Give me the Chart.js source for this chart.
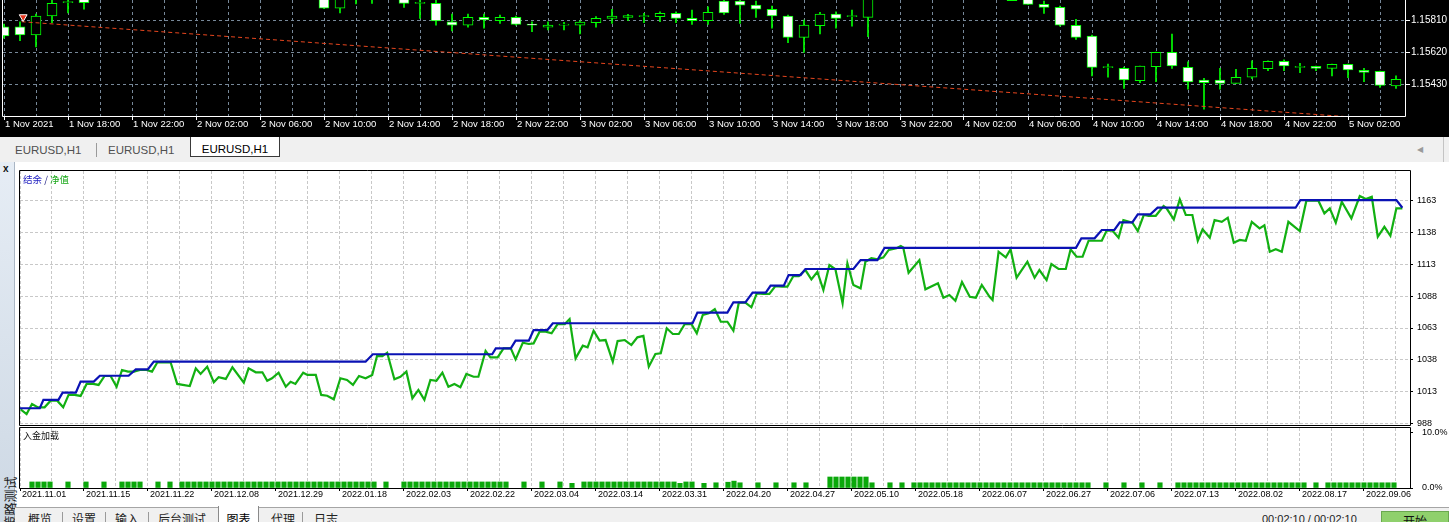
<!DOCTYPE html>
<html>
<head>
<meta charset="utf-8">
<title>EURUSD,H1 - 策略测试</title>
<script src="https://cdn.jsdelivr.net/npm/chart.js@4.4.1/dist/chart.umd.min.js"></script>
<style>
  html, body { margin: 0; padding: 0; }
  body { width: 1449px; height: 522px; overflow: hidden; position: relative; background: #fff;
         font-family: "Liberation Sans", Arial, sans-serif; }
  .abs { position: absolute; }
  canvas { display: block; }
  #pricePane { left: 0; top: 0; width: 1449px; height: 137px; background: #000; }
  #chartTabs { left: 0; top: 137px; width: 1449px; height: 25px; background: #f0f0f0; }
  .ctab { position: absolute; top: 6px; font-size: 11.5px; line-height: 14px; color: #505050; }
  .ctab.active { top: 0; width: 90px; height: 20px; padding-top: 5px; text-align: center; color: #000;
                 background: #fff; border: 1px solid #3a3a3a; border-top: none; box-sizing: border-box; }
  .vsep { position: absolute; width: 1px; background: #9a9a9a; }
  #sideBar { left: 0; top: 162px; width: 14px; height: 360px; border-right: 1px solid #aab6c4;
             background: linear-gradient(#e6edf5, #cdd8e4); }
  #sideTitle { left: -24px; top: 495px; width: 62px; height: 15px; line-height: 15px; text-align: center;
               transform: rotate(-90deg); font: 13px "Noto Sans CJK SC", sans-serif; color: #1e1e1e; white-space: nowrap; }
  .cjk { font-family: "Noto Sans CJK SC", sans-serif; }
  #testerTabs { left: 15px; top: 507px; width: 1434px; height: 15px; background: #f0f0f0; border-top: 1px solid #a5a5a5; }
  .ttab { position: absolute; top: 3px; font: 12px "Noto Sans CJK SC", sans-serif; line-height: 16px; color: #222; }
  .ttab.active { top: -2px; width: 41px; height: 20px; padding-top: 5px; text-align: center; box-sizing: border-box;
                 background: #fff; border: 1px solid #8a8a8a; border-top: none; color: #000; }
</style>
</head>
<body>

<div id="pricePane" class="abs">
  <canvas id="priceChart" width="1449" height="137"></canvas>
</div>

<div id="chartTabs" class="abs">
  <div class="ctab" style="left:15px">EURUSD,H1</div>
  <div class="vsep" style="left:96px;top:6px;height:14px"></div>
  <div class="ctab" style="left:108px">EURUSD,H1</div>
  <div class="ctab active" style="left:190px">EURUSD,H1</div>
  <div class="ctab" style="left:1417px;top:6px;font-size:8px;color:#9a9a9a">&#9664;</div>
  <div class="vsep" style="left:1443px;top:0;height:25px;background:#c4c4c4"></div>
</div>

<div id="sideBar" class="abs"></div>
<div class="abs" style="left:3px;top:163px;font:bold 10px 'Liberation Sans';color:#111">x</div>
<div id="sideTitle" class="abs">策略测试</div>

<canvas id="equityChart" class="abs" style="left:0;top:163px" width="1449" height="263"></canvas>
<canvas id="loadChart" class="abs" style="left:0;top:426px" width="1449" height="80"></canvas>

<div class="abs cjk" style="left:23px;top:174px;font-size:9.5px;line-height:10px;white-space:nowrap">
  <span style="color:#1c1cc0">结余</span><span style="color:#1c1c80"> / </span><span style="color:#18a818">净值</span>
</div>
<div class="abs cjk" style="left:23px;top:431px;font-size:9px;line-height:10px;color:#111">入金加载</div>

<div id="testerTabs" class="abs">
  <div class="ttab" style="left:13px">概览</div>
  <div class="vsep" style="left:47px;top:4px;height:11px"></div>
  <div class="ttab" style="left:57px">设置</div>
  <div class="vsep" style="left:90px;top:4px;height:11px"></div>
  <div class="ttab" style="left:100px">输入</div>
  <div class="vsep" style="left:133px;top:4px;height:11px"></div>
  <div class="ttab" style="left:143px">后台测试</div>
  <div class="ttab active" style="left:203px">图表</div>
  <div class="ttab" style="left:256px">代理</div>
  <div class="vsep" style="left:287px;top:4px;height:11px"></div>
  <div class="ttab" style="left:299px">日志</div>
  <div class="abs" style="left:1247px;top:5px;font-size:11px;color:#222;white-space:nowrap">00:02:10 / 00:02:10</div>
  <div class="abs cjk" style="left:1366px;top:3px;width:68px;height:16px;background:#8fd06c;border:1px solid #6aa84f;
       box-sizing:border-box;font-size:12px;line-height:18px;text-align:center;color:#111">开始</div>
</div>

<script>
// ---- Price chart (EURUSD H1, candle index 0 = 1 Nov 14:00) ----
// null = bar sits completely above the visible price range
const candleOpen = [
  1.15770, 1.15770, 1.15721, 1.15834, 1.15913, 1.15947, null, null, null, null,
  null, null, null, null, null, null, null, null, null, null,
  1.15958, 1.15880, 1.15960, 1.15960, null, 1.15950, 1.15909, 1.15909, 1.15800, 1.15780,
  1.15826, 1.15806, 1.15826, 1.15786, 1.15767, 1.15779, 1.15779, 1.15794, 1.15820, 1.15826,
  1.15830, 1.15830, 1.15850, 1.15820, 1.15806, 1.15923, 1.15923, 1.15899, 1.15874, 1.15834,
  1.15707, 1.15776, 1.15846, 1.15830, 1.15826, null, null, null, null, null,
  null, null, null, 1.15970, 1.15950, 1.15903, 1.15885, 1.15779, 1.15715, 1.15527,
  1.15523, 1.15450, 1.15533, 1.15618, 1.15529, 1.15454, 1.15454, 1.15434, 1.15470, 1.15521,
  1.15565, 1.15529, 1.15535, 1.15523, 1.15547, 1.15511, 1.15505, 1.15418
];
const candleHigh = [
  1.15786, 1.15800, 1.15846, 1.15947, 1.15941, 1.15958, null, null, null, null,
  null, null, null, null, null, null, null, null, null, null,
  1.15976, 1.15976, 1.15990, 1.15985, null, 1.15970, 1.15941, 1.15929, 1.15846, 1.15846,
  1.15846, 1.15840, 1.15834, 1.15800, 1.15800, 1.15796, 1.15806, 1.15830, 1.15874, 1.15844,
  1.15850, 1.15859, 1.15859, 1.15869, 1.15889, 1.15935, 1.15935, 1.15923, 1.15893, 1.15840,
  1.15810, 1.15856, 1.15859, 1.15869, 1.15990, null, null, null, null, null,
  null, null, null, 1.15985, 1.15965, 1.15923, 1.15893, 1.15814, 1.15721, 1.15549,
  1.15531, 1.15537, 1.15620, 1.15727, 1.15562, 1.15464, 1.15523, 1.15517, 1.15567, 1.15567,
  1.15573, 1.15553, 1.15537, 1.15549, 1.15549, 1.15523, 1.15507, 1.15478
];
const candleLow = [
  1.15703, 1.15687, 1.15651, 1.15794, 1.15853, 1.15875, null, null, null, null,
  null, null, null, null, null, null, null, null, null, null,
  1.15878, 1.15853, 1.15905, 1.15909, null, 1.15885, 1.15820, 1.15780, 1.15746, 1.15767,
  1.15761, 1.15790, 1.15780, 1.15741, 1.15751, 1.15751, 1.15727, 1.15767, 1.15790, 1.15806,
  1.15794, 1.15800, 1.15794, 1.15784, 1.15784, 1.15844, 1.15790, 1.15826, 1.15761, 1.15675,
  1.15618, 1.15727, 1.15761, 1.15774, 1.15711, null, null, null, null, null,
  null, null, null, 1.15925, 1.15903, 1.15850, 1.15774, 1.15695, 1.15478, 1.15470,
  1.15404, 1.15438, 1.15444, 1.15523, 1.15399, 1.15280, 1.15399, 1.15434, 1.15461, 1.15509,
  1.15509, 1.15497, 1.15509, 1.15478, 1.15467, 1.15444, 1.15410, 1.15404
];
const candleClose = [
  1.15715, 1.15721, 1.15834, 1.15909, 1.15919, 1.15913, null, null, null, null,
  null, null, null, null, null, null, null, null, null, null,
  1.15880, 1.15958, 1.15975, 1.15950, null, 1.15909, 1.15909, 1.15804, 1.15780, 1.15826,
  1.15810, 1.15826, 1.15784, 1.15779, 1.15780, 1.15786, 1.15798, 1.15820, 1.15834, 1.15836,
  1.15830, 1.15850, 1.15820, 1.15806, 1.15856, 1.15853, 1.15899, 1.15874, 1.15834, 1.15707,
  1.15780, 1.15846, 1.15820, 1.15830, 1.15976, null, null, null, null, null,
  null, null, null, 1.15925, 1.15903, 1.15885, 1.15779, 1.15707, 1.15529, 1.15527,
  1.15454, 1.15537, 1.15618, 1.15537, 1.15442, 1.15438, 1.15434, 1.15470, 1.15523, 1.15565,
  1.15537, 1.15529, 1.15523, 1.15547, 1.15513, 1.15499, 1.15422, 1.15458
];
const timeLabels = [
  "1 Nov 2021", "1 Nov 18:00", "1 Nov 22:00", "2 Nov 02:00", "2 Nov 06:00", "2 Nov 10:00",
  "2 Nov 14:00", "2 Nov 18:00", "2 Nov 22:00", "3 Nov 02:00", "3 Nov 06:00", "3 Nov 10:00",
  "3 Nov 14:00", "3 Nov 18:00", "3 Nov 22:00", "4 Nov 02:00", "4 Nov 06:00", "4 Nov 10:00",
  "4 Nov 14:00", "4 Nov 18:00", "4 Nov 22:00", "5 Nov 02:00"
];
const priceTicks = [1.15430, 1.15620, 1.15810];
// dashed order line and the sell arrow
const trendBar = [1.1, 87.6];
const trendPrice = [1.15800, 1.15211];
const sellBar = [1.2];
const sellPrice = [1.15828];

// ---- Tester graph (x = trade number) ----
const equityTrade = [
  0.1, 1.1, 2.0, 3.0, 4.1, 5.1, 6.2, 7.2, 8.1, 9.1,
  10.1, 11.1, 12.2, 13.1, 14.1, 15.1, 16.1, 17.0, 18.0, 19.0,
  20.0, 21.1, 22.0, 22.9, 25.1, 26.2, 28.3, 29.3, 30.1, 31.2,
  32.3, 33.1, 34.3, 35.4, 37.3, 38.1, 39.3, 40.4, 41.2, 42.0,
  43.1, 44.3, 45.1, 45.9, 47.2, 47.9, 49.3, 50.2, 51.2, 52.3,
  53.4, 54.5, 55.5, 56.5, 57.6, 58.7, 59.5, 60.4, 61.2, 62.4,
  63.4, 64.4, 65.4, 66.4, 67.4, 68.4, 69.4, 70.4, 71.4, 72.4,
  73.4, 74.4, 75.6, 76.4, 77.6, 78.4, 79.6, 80.6, 81.8, 82.6,
  83.8, 84.8, 85.6, 86.6, 87.6, 88.6, 89.6, 90.8, 91.6, 92.6,
  93.8, 94.6, 95.6, 96.6, 97.6, 98.8, 99.6, 100.8, 101.9, 102.9,
  103.9, 104.8, 105.9, 106.8, 107.8, 108.8, 109.8, 110.8, 111.9, 112.8,
  113.8, 114.8, 115.8, 116.8, 117.9, 118.9, 119.8, 120.9, 121.9, 122.8,
  123.9, 124.9, 125.9, 127.0, 127.9, 128.9, 129.8, 130.9, 131.9, 132.9,
  133.9, 134.9, 135.9, 137.1, 137.9, 138.9, 140.1, 140.9, 141.9, 142.9,
  143.9, 144.8, 146.1, 146.8, 147.2, 148.1, 149.9, 150.9, 153.0, 153.9,
  154.9, 155.9, 157.0, 158.3, 159.3, 160.3, 161.6, 162.1, 163.1, 164.3,
  165.1, 166.1, 167.9, 169.1, 169.9, 171.1, 171.9, 173.1, 174.3, 175.1,
  176.1, 177.1, 178.1, 180.3, 181.1, 182.1, 183.1, 183.9, 185.4, 186.3,
  187.3, 188.1, 189.3, 190.6, 191.1, 192.3, 193.3, 194.3, 195.4, 196.3,
  197.1, 198.3, 199.1, 200.3, 201.3, 202.3, 203.3, 204.3, 205.3, 206.6,
  207.4, 208.3, 209.3, 210.3, 211.4, 213.3, 214.4, 216.4, 217.4, 218.3,
  219.3, 220.3, 221.9, 223.3, 224.3, 225.3, 226.3, 227.4, 228.4, 229.4,
  230.4
];
const equityValue = [
  999.5, 995.8, 1003.6, 1001.0, 1001.0, 1006.2, 1006.2, 1001.0, 1010.7, 1010.7,
  1009.9, 1019.3, 1019.3, 1018.5, 1025.5, 1025.5, 1017.1, 1030.2, 1028.9, 1028.9,
  1030.2, 1030.2, 1028.9, 1036.2, 1036.2, 1019.3, 1017.7, 1031.5, 1027.1, 1032.8,
  1020.6, 1024.5, 1023.2, 1032.3, 1020.3, 1031.5, 1028.4, 1028.4, 1021.8, 1023.7,
  1028.1, 1017.1, 1021.0, 1019.3, 1028.1, 1026.3, 1026.3, 1010.7, 1010.1, 1007.3,
  1023.7, 1022.4, 1018.5, 1025.5, 1023.7, 1026.3, 1041.1, 1041.1, 1043.7, 1022.9,
  1024.9, 1028.9, 1008.1, 1014.6, 1006.8, 1022.4, 1021.8, 1028.1, 1017.1, 1019.3,
  1016.7, 1027.1, 1024.9, 1024.9, 1045.0, 1040.1, 1040.1, 1047.1, 1047.1, 1038.5,
  1051.5, 1050.5, 1051.0, 1060.1, 1060.1, 1058.9, 1066.1, 1066.1, 1070.0, 1039.3,
  1049.2, 1047.9, 1060.9, 1053.1, 1053.6, 1036.7, 1052.8, 1053.6, 1049.7, 1055.7,
  1056.8, 1032.8, 1042.7, 1043.2, 1062.8, 1058.3, 1058.3, 1066.1, 1066.1, 1058.9,
  1073.2, 1074.5, 1077.8, 1067.9, 1067.9, 1060.9, 1082.8, 1082.8, 1079.2, 1090.1,
  1089.6, 1089.6, 1095.8, 1095.3, 1095.3, 1103.6, 1103.6, 1108.3, 1101.0, 1107.0,
  1092.7, 1112.2, 1108.9, 1082.3, 1113.5, 1096.6, 1094.0, 1114.8, 1117.5, 1116.7,
  1118.2, 1124.0, 1125.3, 1127.1, 1126.0, 1106.2, 1116.1, 1093.2, 1097.9, 1086.7,
  1088.8, 1084.3, 1098.9, 1087.4, 1086.7, 1096.6, 1087.4, 1084.9, 1122.6, 1118.2,
  1124.5, 1102.3, 1114.8, 1102.3, 1108.3, 1100.5, 1113.0, 1109.1, 1109.1, 1124.5,
  1118.7, 1118.7, 1131.2, 1131.2, 1139.0, 1139.0, 1133.5, 1147.4, 1145.3, 1138.8,
  1151.3, 1150.7, 1150.7, 1158.3, 1156.5, 1147.9, 1163.5, 1151.3, 1151.3, 1131.2,
  1140.1, 1133.5, 1147.4, 1146.0, 1149.2, 1129.6, 1131.8, 1131.2, 1146.0, 1140.9,
  1143.2, 1122.6, 1124.5, 1122.6, 1146.0, 1138.8, 1162.5, 1162.5, 1152.6, 1156.5,
  1145.3, 1161.7, 1148.7, 1166.1, 1163.8, 1165.6, 1134.3, 1142.1, 1135.1, 1156.5,
  1156.5
];
const balanceTrade = [
  0.0, 3.3, 3.9, 6.4, 7.1, 9.3, 10.1, 12.3, 13.3, 18.1,
  19.3, 21.3, 22.3, 57.6, 58.8, 78.7, 79.3, 81.8, 82.6, 84.8,
  85.6, 87.9, 88.8, 112.1, 112.9, 117.9, 118.9, 120.9, 122.1, 124.3,
  125.1, 127.3, 128.1, 130.1, 130.9, 138.9, 140.1, 142.9, 144.1, 176.0,
  176.9, 179.1, 180.3, 182.4, 183.3, 185.4, 186.3, 188.4, 189.6, 212.6,
  213.4, 229.4, 230.4
];
const balanceValue = [
  1000.3, 1000.3, 1006.8, 1006.8, 1012.5, 1012.5, 1021.1, 1021.1, 1025.7, 1025.7,
  1030.7, 1030.7, 1036.7, 1036.7, 1042.5, 1042.5, 1047.1, 1047.1, 1053.1, 1053.1,
  1061.4, 1061.4, 1066.7, 1066.7, 1075.0, 1075.0, 1083.1, 1083.1, 1090.6, 1090.6,
  1096.1, 1096.1, 1104.4, 1104.4, 1109.1, 1109.1, 1116.1, 1116.1, 1125.7, 1125.7,
  1133.1, 1133.1, 1139.6, 1139.6, 1145.6, 1145.6, 1151.8, 1151.8, 1157.0, 1157.0,
  1163.0, 1163.0, 1157.0
];
const equityTicks = [988, 1013, 1038, 1063, 1088, 1113, 1138, 1163];

// deposit load (%) per trade
const loadTrade = [
  2, 3, 4, 5, 8, 11, 14, 17, 18, 19, 20, 23, 25,
  27, 28, 29, 30, 31, 32, 33, 34, 35, 36, 37, 38, 39, 40, 41, 42, 43,
  44, 45, 46, 47, 48, 49, 50, 51, 52, 53, 54, 55, 56, 57, 58, 59,
  61, 64, 65, 66, 67, 68, 69, 70, 71, 72, 73, 74, 75, 76, 77, 78, 79, 80, 81,
  84, 87, 90, 92,
  94, 95, 96, 97, 98, 99, 100, 101, 102, 103, 104, 105, 106, 107, 108, 109,
  110, 111, 112, 114, 116, 118, 119, 120,
  123, 126, 129, 131,
  135, 136, 137, 138, 139, 140, 141, 142, 145, 147,
  149, 150, 151, 152, 153, 154, 155, 156, 157, 158, 159, 160, 161, 162, 163,
  164, 165, 166, 167, 168, 169, 170, 171, 172, 173, 174, 175, 176, 177, 178,
  181, 184, 187, 190,
  193, 194, 195, 196, 197, 198, 199, 200, 201, 202, 203,
  204, 205, 206, 207, 208, 209, 210, 211, 212, 213, 214,
  216, 218, 219, 220, 221, 222, 223, 224, 225, 226, 227, 228, 229
];
const loadValue = [
  1.1, 1.1, 1.1, 1.1, 1.1, 1.1, 1.1, 1.1, 1.1, 1.1, 1.1, 1.1, 1.1,
  1.1, 1.1, 1.1, 1.1, 1.1, 1.1, 1.1, 1.1, 1.1, 1.1, 1.1, 1.1, 1.1, 1.1, 1.1, 1.1, 1.1,
  1.1, 1.1, 1.1, 1.1, 1.1, 1.1, 1.1, 1.1, 1.1, 1.1, 1.1, 1.1, 1.1, 1.1, 1.1, 1.1,
  1.1, 1.1, 1.1, 1.1, 1.1, 1.1, 1.1, 1.1, 1.1, 1.1, 1.1, 1.1, 1.1, 1.1, 1.1, 1.1, 1.1, 1.1, 1.1,
  1.1, 1.1, 1.1, 0.85,
  1.1, 1.1, 1.1, 1.1, 1.1, 1.1, 1.1, 1.1, 1.1, 1.1, 1.1, 1.1, 1.1, 1.1, 1.1, 1.1,
  0.85, 1.1, 1.1, 0.85, 0.95, 1.05, 1.25, 0.95,
  0.95, 0.95, 0.95, 0.95,
  2.0, 2.0, 2.0, 2.0, 2.0, 2.0, 2.0, 0.95, 0.95, 0.95,
  0.95, 0.95, 0.95, 0.95, 0.95, 0.95, 0.95, 0.95, 0.95, 0.95, 0.95, 0.95, 0.95, 0.95, 0.95,
  0.95, 0.95, 0.95, 0.95, 0.95, 0.95, 0.95, 0.95, 0.95, 0.95, 0.95, 0.95, 0.95, 0.95, 0.95,
  0.95, 0.95, 0.95, 0.95,
  0.95, 0.95, 0.95, 0.95, 0.95, 0.95, 0.95, 0.95, 0.95, 0.95, 0.95,
  0.95, 0.95, 0.95, 0.95, 0.95, 0.95, 0.95, 0.95, 0.95, 0.95, 0.95,
  0.95, 0.95, 0.95, 0.95, 0.95, 0.95, 0.95, 0.95, 0.95, 0.95, 0.95, 0.95, 0.95
];
const loadTicks = [0, 10];
const dateLabels = [
  "2021.11.01", "2021.11.15", "2021.11.22", "2021.12.08", "2021.12.29", "2022.01.18",
  "2022.02.03", "2022.02.22", "2022.03.04", "2022.03.14", "2022.03.31", "2022.04.20",
  "2022.04.27", "2022.05.10", "2022.05.18", "2022.06.07", "2022.06.27", "2022.07.06",
  "2022.07.13", "2022.08.02", "2022.08.17", "2022.09.06"
];

const TRADE_MAX = 231.67;      // right edge of the tester graph
const TRADE_GRID = 16 / 3;     // one dashed grid column, in trades

Chart.defaults.font.family = '"Liberation Sans", Arial, sans-serif';
Chart.defaults.animation = false;
Chart.defaults.plugins.legend.display = false;
Chart.defaults.plugins.tooltip.enabled = false;

/**
 * Thin frame round the plot area, like the terminal draws it.
 */
const framePlugin = {
  id: "frame",
  afterDraw(chart, args, opts) {
    const { ctx, chartArea: a } = chart;
    const l = Math.round(a.left) - 0.5;
    const r = Math.round(a.right) + 0.5;
    const t = Math.round(a.top) - 0.5;
    const b = Math.round(a.bottom) + 0.5;
    ctx.save();
    ctx.strokeStyle = opts.color || "#000";
    ctx.lineWidth = 1;
    ctx.beginPath();
    ctx.moveTo(l, t);
    ctx.lineTo(l, b);
    ctx.lineTo(r, b);
    ctx.lineTo(r, t);
    if (opts.top !== false) ctx.lineTo(l, t);
    ctx.stroke();
    ctx.restore();
  },
};
Chart.register(framePlugin);

function tradeGridTicks() {
  const ticks = [];
  for (let v = 0; v <= TRADE_MAX; v += TRADE_GRID) ticks.push({ value: v });
  return ticks;
}

// fixed axis size, and no extra room asked for the tick labels
function fixSize(size) {
  return (s) => {
    if (s.isHorizontal()) s.height = size;
    else s.width = size;
    s.paddingTop = 0;
    s.paddingBottom = 0;
    s.paddingLeft = 0;
    s.paddingRight = 0;
  };
}

/**
 * Candles: a 1px wick bar behind a floating body bar.
 */
function drawPriceChart() {
  const bodies = [];
  const wicks = [];
  candleOpen.forEach((o, k) => {
    if (o === null) return;
    bodies.push({ x: k, y: [o, candleClose[k]] });
    wicks.push({ x: k, y: [candleLow[k], candleHigh[k]] });
  });

  new Chart(document.getElementById("priceChart"), {
    type: "bar",
    data: {
      datasets: [
        {
          type: "line",
          data: sellBar.map((x, i) => ({ x: x, y: sellPrice[i] })),
          showLine: false,
          pointStyle: "triangle",
          rotation: 180,
          pointRadius: 4.5,
          pointBackgroundColor: "#e8341c",
          pointBorderColor: "#ffffff",
          pointBorderWidth: 1,
          order: 0,
        },
        {
          type: "line",
          data: trendBar.map((x, i) => ({ x: x, y: trendPrice[i] })),
          borderColor: "#e8461e",
          borderWidth: 1,
          borderDash: [4, 3],
          pointRadius: 0,
          clip: 0,
          order: 1,
        },
        {
          data: bodies,
          barThickness: 10,
          minBarLength: 1,
          grouped: false,
          borderWidth: 1,
          borderSkipped: false,
          borderColor: "#00ff00",
          backgroundColor: (c) => (c.raw && c.raw.y[1] < c.raw.y[0] ? "#ffffff" : "#000000"),
          clip: 0,
          order: 2,
        },
        {
          data: wicks,
          barThickness: 1,
          grouped: false,
          borderWidth: 0,
          backgroundColor: "#00ff00",
          clip: 0,
          order: 3,
        },
      ],
    },
    options: {
      responsive: false,
      layout: { padding: { left: 3, top: 0, right: 0, bottom: 0 }, autoPadding: false },
      scales: {
        x: {
          type: "linear",
          min: -0.0625,
          max: 87.5625,
          offset: false,
          grid: {
            offset: false,
            color: "#778899",
            tickLength: 4,
            tickColor: (c) => (c.index % 2 === 0 ? "#ffffff" : "rgba(0,0,0,0)"),
          },
          border: { display: false, dash: [3, 3] },
          ticks: {
            color: "#ffffff",
            font: { size: 9.5, lineHeight: 1 },
            padding: 0,
            align: "start",
            labelOffset: 1,
            autoSkip: false,
            maxRotation: 0,
            minRotation: 0,
            callback: (v, i) => (i % 2 === 0 ? timeLabels[i / 2] : ""),
          },
          afterBuildTicks: (s) => {
            s.ticks = [];
            for (let k = 0; k < candleOpen.length; k += 2) s.ticks.push({ value: k });
          },
          afterFit: fixSize(21),
        },
        y: {
          position: "right",
          min: 1.1524,
          max: 1.15929,
          grid: { color: "#778899", tickColor: "#ffffff", tickLength: 5 },
          border: { display: false, dash: [3, 3] },
          ticks: {
            color: "#ffffff",
            font: { size: 10, lineHeight: 1 },
            padding: 1,
            callback: (v) => v.toFixed(5),
          },
          afterBuildTicks: (s) => { s.ticks = priceTicks.map((v) => ({ value: v })); },
          afterFit: fixSize(44),
        },
      },
      plugins: { frame: { color: "#ffffff", top: false } },
    },
  });
}

/**
 * Balance / equity graph.
 */
function drawEquityChart() {
  new Chart(document.getElementById("equityChart"), {
    type: "line",
    data: {
      datasets: [
        {
          label: "结余",
          data: balanceTrade.map((t, i) => ({ x: t, y: balanceValue[i] })),
          borderColor: "#0a12b4",
          borderWidth: 2.2,
          pointRadius: 0,
          tension: 0,
        },
        {
          label: "净值",
          data: equityTrade.map((t, i) => ({ x: t, y: equityValue[i] })),
          borderColor: "#12b012",
          borderWidth: 2.2,
          pointRadius: 0,
          tension: 0,
        },
      ],
    },
    options: {
      responsive: false,
      layout: { padding: { left: 20, top: 8, right: 0, bottom: 1 }, autoPadding: false },
      scales: {
        x: {
          type: "linear",
          min: 0,
          max: TRADE_MAX,
          offset: false,
          grid: { offset: false, color: "#c8c8c8", drawTicks: false },
          border: { display: false, dash: [3, 2] },
          ticks: { display: false },
          afterBuildTicks: (s) => { s.ticks = tradeGridTicks(); },
          afterFit: fixSize(0),
        },
        y: {
          position: "right",
          min: 987.2,
          max: 1185.7,
          grid: { color: "#c8c8c8", tickColor: "#000000", tickLength: 3 },
          border: { display: false, dash: [3, 2] },
          ticks: {
            color: "#000000",
            font: { size: 9, lineHeight: 1 },
            padding: 4,
            callback: (v) => String(v),
          },
          afterBuildTicks: (s) => { s.ticks = equityTicks.map((v) => ({ value: v })); },
          afterFit: fixSize(39),
        },
      },
      plugins: { frame: { color: "#000000" } },
    },
  });
}

/**
 * Deposit load bars with the date axis underneath.
 */
function drawLoadChart() {
  new Chart(document.getElementById("loadChart"), {
    type: "bar",
    data: {
      datasets: [
        {
          label: "入金加载",
          data: loadTrade.map((t, i) => ({ x: t, y: loadValue[i] })),
          backgroundColor: "#0aa80a",
          barThickness: 4.5,
          borderWidth: 0,
        },
      ],
    },
    options: {
      responsive: false,
      layout: { padding: { left: 20, top: 2, right: 0, bottom: 0 }, autoPadding: false },
      scales: {
        x: {
          type: "linear",
          min: 0,
          max: TRADE_MAX,
          offset: false,
          grid: {
            offset: false,
            color: "#c8c8c8",
            tickLength: 3,
            tickColor: (c) => (c.index % 2 === 0 ? "#000000" : "rgba(0,0,0,0)"),
          },
          border: { display: false, dash: [3, 2] },
          ticks: {
            color: "#000000",
            font: { size: 9, lineHeight: 1 },
            padding: -1,
            align: "start",
            labelOffset: 2,
            autoSkip: false,
            maxRotation: 0,
            minRotation: 0,
            callback: (v, i) => (i % 2 === 0 ? dateLabels[i / 2] : ""),
          },
          afterBuildTicks: (s) => { s.ticks = tradeGridTicks(); },
          afterFit: fixSize(18),
        },
        y: {
          position: "right",
          min: 0,
          max: 10.9,
          grid: { drawOnChartArea: false, color: "#000000", tickLength: 3 },
          border: { display: false },
          ticks: {
            color: "#000000",
            font: { size: 9, lineHeight: 1 },
            padding: 9,
            callback: (v) => v.toFixed(1) + "%",
          },
          afterBuildTicks: (s) => { s.ticks = loadTicks.map((v) => ({ value: v })); },
          afterFit: fixSize(39),
        },
      },
      plugins: { frame: { color: "#000000" } },
    },
  });
}

window.onload = function () {
  drawPriceChart();
  drawEquityChart();
  drawLoadChart();
};
</script>
</body>
</html>
